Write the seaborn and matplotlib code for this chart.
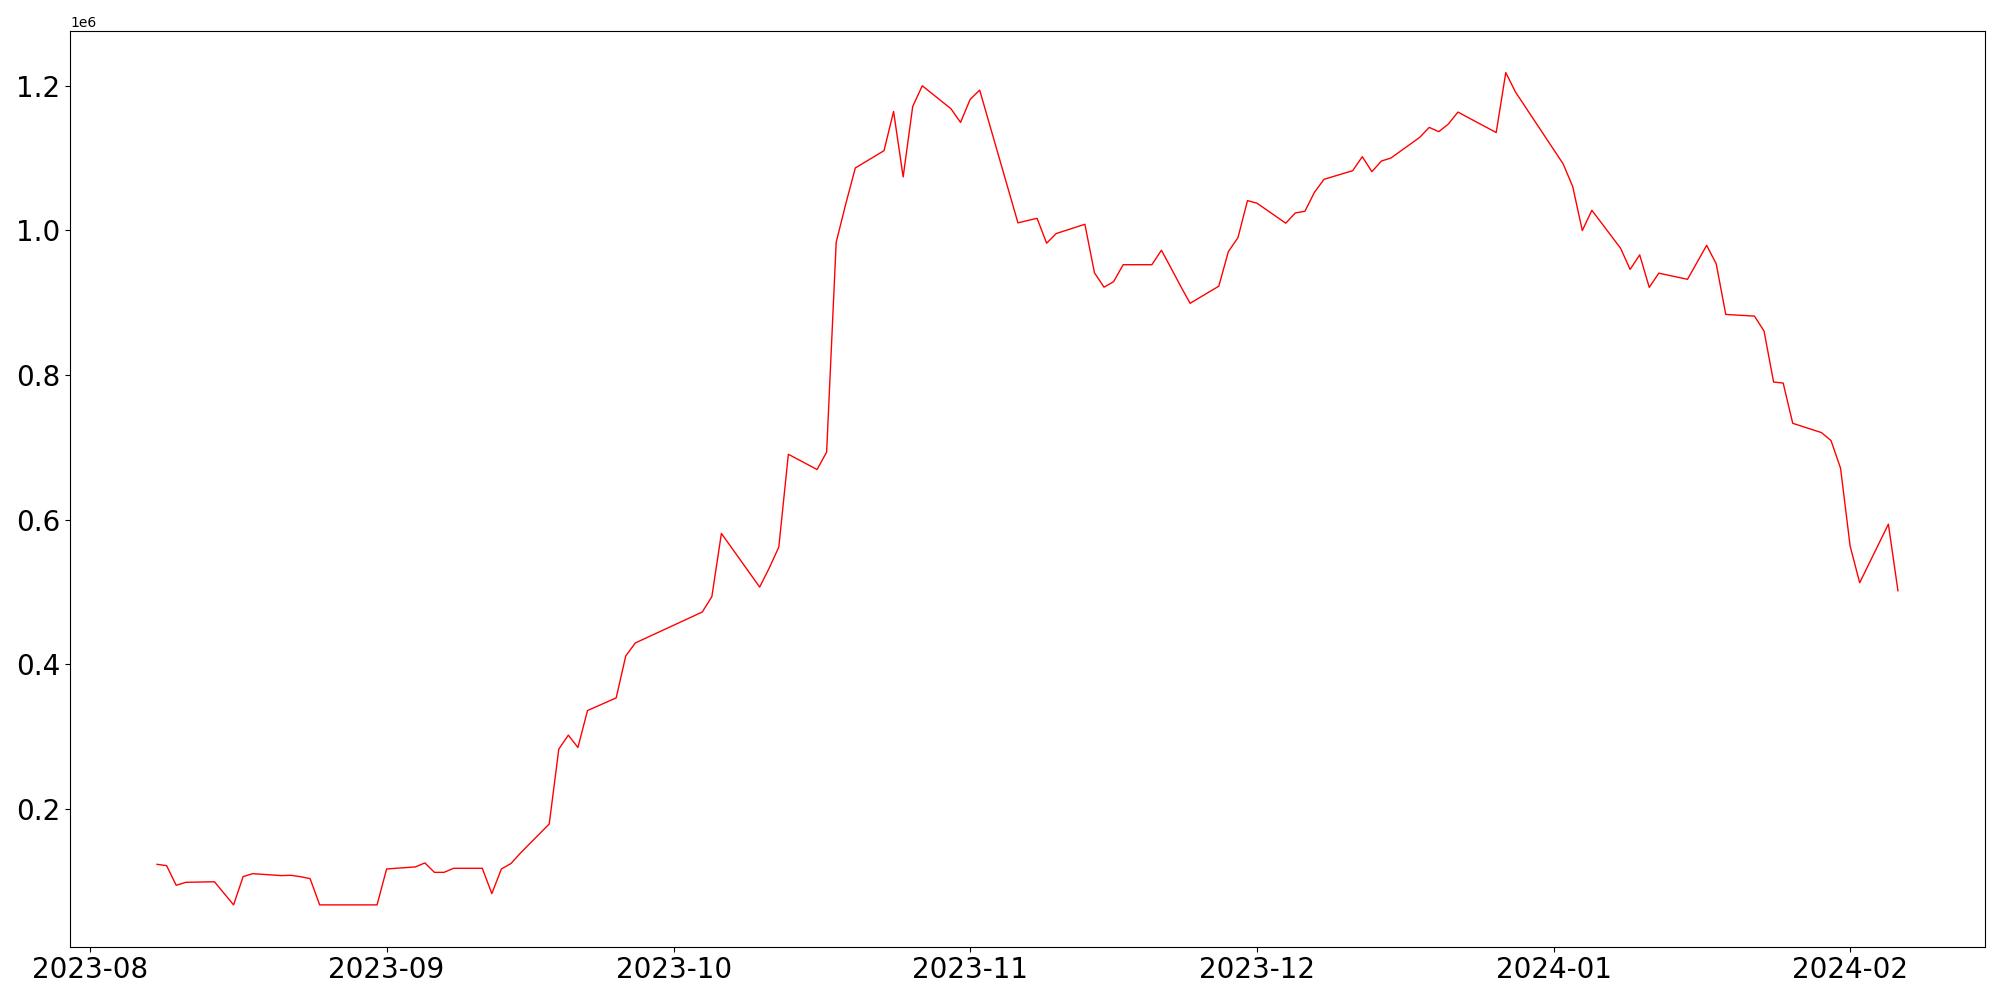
import numpy as np
import pandas as pd
import matplotlib
matplotlib.use("Agg")
import matplotlib.pyplot as plt
import seaborn as sns

# Daily values (weekdays only)
dates = [
    "2023-08-08", "2023-08-09", "2023-08-10", "2023-08-11", "2023-08-14",
    "2023-08-16", "2023-08-17", "2023-08-18", "2023-08-21", "2023-08-22",
    "2023-08-23", "2023-08-24", "2023-08-25", "2023-08-28", "2023-08-29",
    "2023-08-30", "2023-08-31", "2023-09-01", "2023-09-04", "2023-09-05",
    "2023-09-06", "2023-09-07", "2023-09-08", "2023-09-11", "2023-09-12",
    "2023-09-13", "2023-09-14", "2023-09-15", "2023-09-18", "2023-09-19",
    "2023-09-20", "2023-09-21", "2023-09-22", "2023-09-25", "2023-09-26",
    "2023-09-27", "2023-10-04", "2023-10-05", "2023-10-06", "2023-10-10",
    "2023-10-11", "2023-10-12", "2023-10-13", "2023-10-16", "2023-10-17",
    "2023-10-18", "2023-10-19", "2023-10-20", "2023-10-23", "2023-10-24",
    "2023-10-25", "2023-10-26", "2023-10-27", "2023-10-30", "2023-10-31",
    "2023-11-01", "2023-11-02", "2023-11-06", "2023-11-08", "2023-11-09",
    "2023-11-10", "2023-11-13", "2023-11-14", "2023-11-15", "2023-11-16",
    "2023-11-17", "2023-11-20", "2023-11-21", "2023-11-22", "2023-11-23",
    "2023-11-24", "2023-11-27", "2023-11-28", "2023-11-29", "2023-11-30",
    "2023-12-01", "2023-12-04", "2023-12-05", "2023-12-06", "2023-12-07",
    "2023-12-08", "2023-12-11", "2023-12-12", "2023-12-13", "2023-12-14",
    "2023-12-15", "2023-12-18", "2023-12-19", "2023-12-20", "2023-12-21",
    "2023-12-22", "2023-12-26", "2023-12-27", "2023-12-28", "2024-01-02",
    "2024-01-03", "2024-01-04", "2024-01-05", "2024-01-08", "2024-01-09",
    "2024-01-10", "2024-01-11", "2024-01-12", "2024-01-15", "2024-01-17",
    "2024-01-18", "2024-01-19", "2024-01-22", "2024-01-23", "2024-01-24",
    "2024-01-25", "2024-01-26", "2024-01-29", "2024-01-30", "2024-01-31",
    "2024-02-01", "2024-02-02", "2024-02-05", "2024-02-06",
]

values = [
    123100, 121300, 94100, 98200, 99000,
    67000, 106100, 110200, 107500, 107900,
    106000, 103300, 67000, 67000, 67000,
    67000, 67000, 116700, 119500, 125000,
    112000, 112000, 117600, 117600, 82600,
    116700, 124200, 138800, 178900, 282500,
    301800, 284700, 335800, 353300, 411300,
    429300, 472100, 493300, 580800, 506600,
    532900, 561900, 690300, 669200, 693300,
    983600, 1036600, 1086300, 1110200, 1164500,
    1073900, 1171400, 1200000, 1168200, 1149300,
    1181100, 1194000, 1010400, 1016700, 982200,
    995600, 1008400, 941300, 921400, 929000,
    952500, 952500, 972500, 948000, 923000,
    899100, 922800, 970700, 989800, 1041200,
    1037500, 1009900, 1024100, 1026400, 1052700,
    1070600, 1082600, 1101900, 1081200, 1095900,
    1100100, 1128600, 1142400, 1136500, 1147100,
    1163600, 1135300, 1218200, 1191700, 1091900,
    1060500, 999700, 1027800, 975300, 946000,
    966100, 921200, 940800, 932300, 979300,
    953700, 883700, 881400, 860700, 790200,
    788800, 733100, 720300, 709300, 671000,
    563300, 512600, 593600, 501500,
]

x = pd.to_datetime(dates)
y = np.array(values, dtype=float)

fig, ax = plt.subplots(figsize=(20, 10), dpi=100)
sns.lineplot(x=x, y=y, color="red", linewidth=1, ax=ax)

ax.set_xlabel("")
ax.set_ylabel("")
plt.xticks(fontsize=20)
plt.yticks(fontsize=20)

plt.subplots_adjust(left=0.035, right=0.9925, top=0.969, bottom=0.0535)
plt.savefig("out.png")
